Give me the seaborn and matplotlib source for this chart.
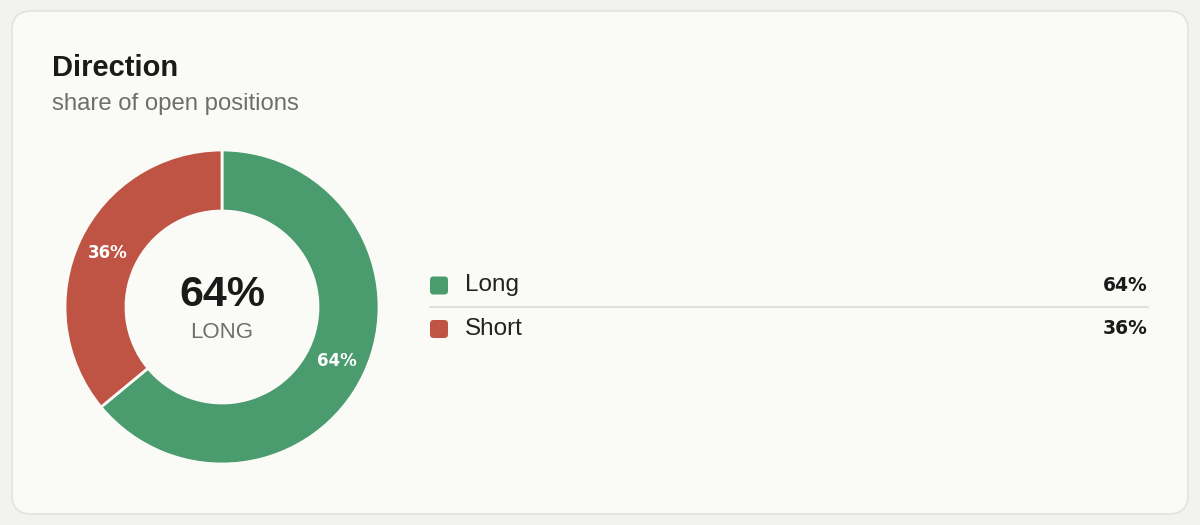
import matplotlib
matplotlib.use("Agg")
import matplotlib.pyplot as plt
import seaborn as sns
from matplotlib.patches import FancyBboxPatch

# data
labels = ["Long", "Short"]
shares = [64, 36]
colors = ["#4a9b6e", "#c05444"]
title = "Direction"
subtitle = "share of open positions"

sns.set_theme(style="white")
plt.rcParams["font.family"] = ["Liberation Sans", "DejaVu Sans"]

W, H = 1200, 525
fig = plt.figure(figsize=(W / 100, H / 100), dpi=100)
fig.patch.set_facecolor("#f2f2f0")


def fx(px):
    return px / W


def fy(py):
    return 1 - py / H


# card (behind everything)
card = FancyBboxPatch((fx(12), fy(514)), fx(1176), (514 - 11) / H,
                      boxstyle="round,pad=0,rounding_size=0.016",
                      transform=fig.transFigure, facecolor="#fafaf7",
                      edgecolor="#e2e2de", linewidth=1.2, mutation_aspect=W / H,
                      zorder=-5)
fig.patches.append(card)

fig.text(fx(52), fy(76), title, fontsize=21, fontweight="bold",
         color="#1a1a1a", va="baseline", ha="left")
fig.text(fx(52), fy(110), subtitle, fontsize=17.2, color="#6e6e6e",
         va="baseline", ha="left")

# donut
cx, cy, r_out, r_in = 222, 307, 157, 96
half = 172
ax = fig.add_axes([fx(cx - half), fy(cy + half), 2 * half / W, 2 * half / H])
ax.set_zorder(2)
ax.patch.set_visible(False)
ax.axis("off")
wedges, texts, autotexts = ax.pie(
    shares, colors=colors, startangle=90, counterclock=False,
    radius=1, autopct=lambda p: f"{p:.0f}%",
    pctdistance=(r_out + r_in) / 2 / r_out,
    wedgeprops=dict(width=(r_out - r_in) / r_out, edgecolor="#fafaf7", linewidth=2),
    textprops=dict(color="white", fontsize=12, fontweight="bold",
                   family="DejaVu Sans"))
ax.set_xlim(-half / r_out, half / r_out)
ax.set_ylim(-half / r_out, half / r_out)
ax.set_aspect("equal")

ax.text(0, 0.075, f"{shares[0]}%", ha="center", va="center", fontsize=31,
        fontweight="bold", color="#1a1a1a")
ax.text(0, -0.165, labels[0].upper(), ha="center", va="center", fontsize=16,
        color="#6e6e6e")

# legend rows
row_y = [285.5, 329]
for lab, val, col, y in zip(labels, shares, colors, row_y):
    sq = FancyBboxPatch((fx(430), fy(y + 9)), fx(18), 18 / H,
                        boxstyle="round,pad=0,rounding_size=0.003",
                        transform=fig.transFigure, facecolor=col,
                        edgecolor="none", mutation_aspect=W / H)
    fig.patches.append(sq)
    fig.text(fx(465), fy(y), lab, fontsize=17.5, color="#222222",
             ha="left", va="center")
    fig.text(fx(1148), fy(y), f"{val}%", fontsize=13.5, fontweight="bold",
             color="#1a1a1a", ha="right", va="center", family="DejaVu Sans")

fig.add_artist(plt.Line2D([fx(430), fx(1148)], [fy(306.5), fy(306.5)],
                          transform=fig.transFigure, color="#e0e0dc", lw=1.5))

fig.savefig("out.png", dpi=100, facecolor=fig.get_facecolor())
